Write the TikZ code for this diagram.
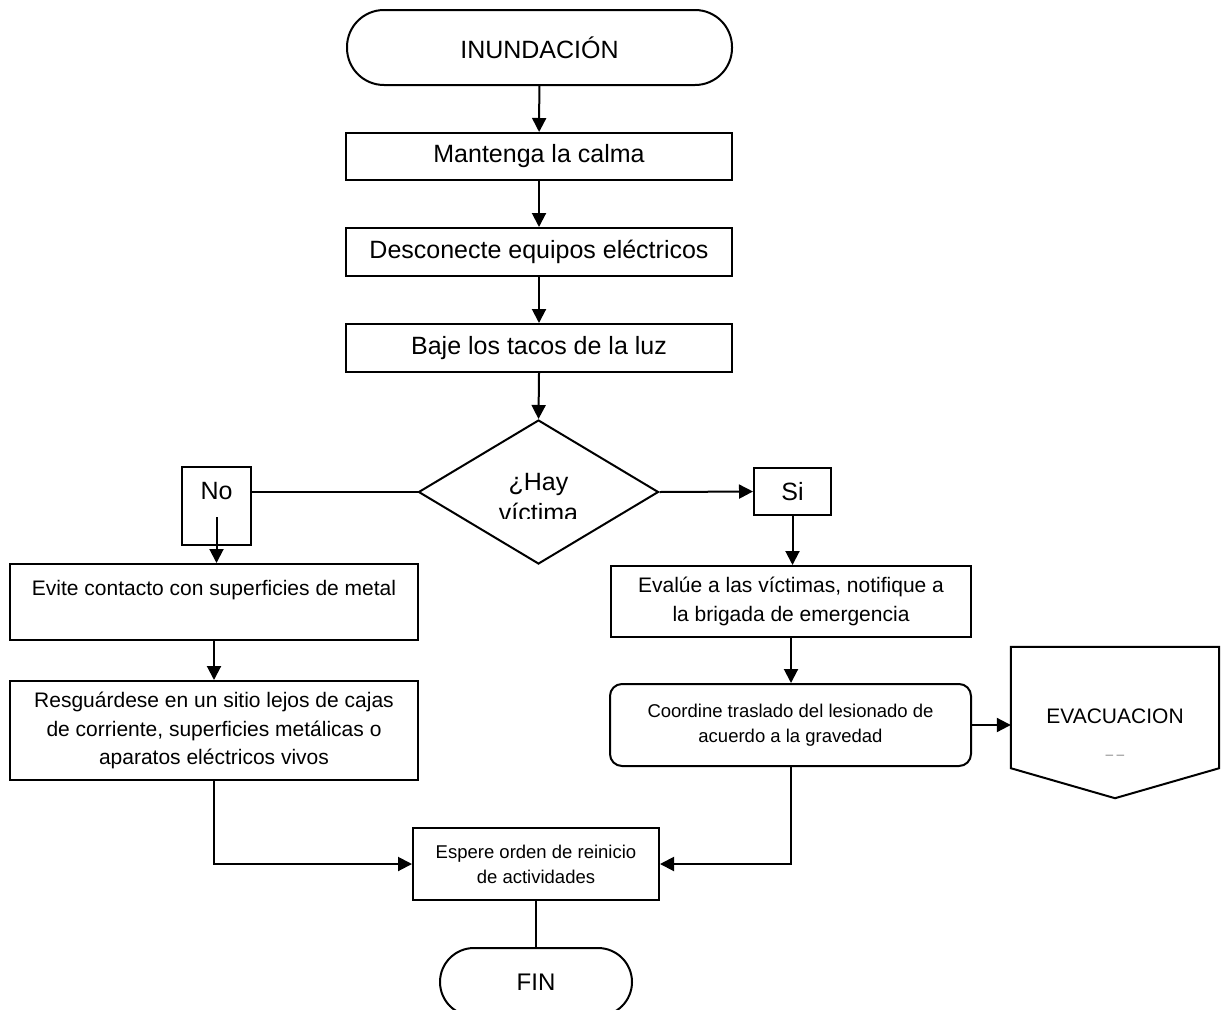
\documentclass[tikz,border=0pt]{standalone}
\usepackage{fontspec}
\setmainfont{Liberation Sans}
\usetikzlibrary{arrows.meta,positioning,calc,shapes.geometric}
\tikzset{
  >={Triangle[length=14pt,width=14pt]},
  box/.style={draw,line width=2pt,inner sep=2pt,align=center,fill=white,font=\fontsize{21}{28.5}\selectfont},
  bbox/.style={box,font=\fontsize{25}{30}\selectfont},
  sbox/.style={box,font=\fontsize{18.5}{25}\selectfont},
  term/.style={bbox},
  arr/.style={->,line width=2pt},
  ln/.style={line width=2pt},
}

\begin{document}
\begin{tikzpicture}[x=1pt,y=-1pt]
\useasboundingbox (0,0) rectangle (1222,1009);
% main column
\node[term,minimum width=385pt,minimum height=75pt,rounded corners=37pt] (ini) at (539.5,47.5) {INUNDACIÓN};
\node[bbox,minimum width=386pt,minimum height=47pt] (calma) at (539,156.5) {Mantenga la calma};
\node[bbox,minimum width=386pt,minimum height=48pt] (desc) at (539,252) {Desconecte equipos eléctricos};
\node[bbox,minimum width=386pt,minimum height=48pt] (taco) at (539,348) {Baje los tacos de la luz};
\node[draw,diamond,line width=2pt,fill=white,minimum width=240pt,minimum height=144pt,inner sep=0pt] (hay) at (538.5,492) {};
\begin{scope}
  \clip (400,430) rectangle (680,518);
  \node[font=\fontsize{25}{31}\selectfont,align=center] (hayt) at (538.5,498) {¿Hay\\víctima};
\end{scope}
% branch labels
\node[bbox,minimum width=69pt,minimum height=78pt] (no) at (216.5,506) {No\\\mbox{}};
\node[bbox,minimum width=77pt,minimum height=47pt] (si) at (792.5,491.5) {Si};
% left branch
\node[box,minimum width=408pt,minimum height=76pt] (evite) at (214,602) {Evite contacto con superficies de metal\\\mbox{}};
\node[box,minimum width=408pt,minimum height=99pt] (resg) at (214,730.5) {Resguárdese en un sitio lejos de cajas\\de corriente, superficies metálicas o\\aparatos eléctricos vivos};
% right branch
\node[box,minimum width=360pt,minimum height=71pt] (eval) at (791,601.5) {Evalúe a las víctimas, notifique a\\la brigada de emergencia};
\node[sbox,minimum width=361pt,minimum height=82pt,rounded corners=12pt] (coord) at (790.5,725) {Coordine traslado del lesionado de\\acuerdo a la gravedad};
\node[minimum width=208pt,minimum height=121pt,inner sep=0pt] (evac) at (1115,707.5) {};
\draw[ln,fill=white] (evac.north west) -- (evac.south west) -- ($(evac.south)+(0,30)$) -- (evac.south east) -- (evac.north east) -- cycle;
\node[font=\fontsize{21}{26}\selectfont] (evact) at (1115,716) {EVACUACION};
\node[font=\fontsize{13}{15}\selectfont,text=black!55] (evacm) at (1115,755) {\_ \_};
% end
\node[sbox,minimum width=246pt,minimum height=72pt] (esp) at (536,864) {Espere orden de reinicio\\de actividades};
\node[term,font=\fontsize{24}{28}\selectfont,minimum width=192pt,minimum height=68pt,rounded corners=34pt] (fin) at (536,982) {FIN};
% connectors
\draw[arr] (ini) -- (calma);
\draw[arr] (calma) -- (desc);
\draw[arr] (desc) -- (taco);
\draw[arr] (taco.south) -- (hay.north);
\draw[ln] (hay.west) -- (hay.west -| no.east);
\draw[arr] (hay.east) -- (si.west);
\coordinate (nob) at ($(no.center)+(0,11)$);
\draw[arr] (nob) -- (nob |- evite.north);
\draw[arr] (si.south) -- (si.south |- eval.north);
\draw[arr] (evite) -- (resg);
\draw[arr] (eval.south) -- (eval.south |- coord.north);
\draw[arr] (coord.east) -- (coord.east -| evac.west);
\draw[arr] (resg.south) |- (esp.west);
\draw[arr] (coord.south) |- (esp.east);
\draw[ln] (esp) -- (fin);
\end{tikzpicture}
\end{document}
